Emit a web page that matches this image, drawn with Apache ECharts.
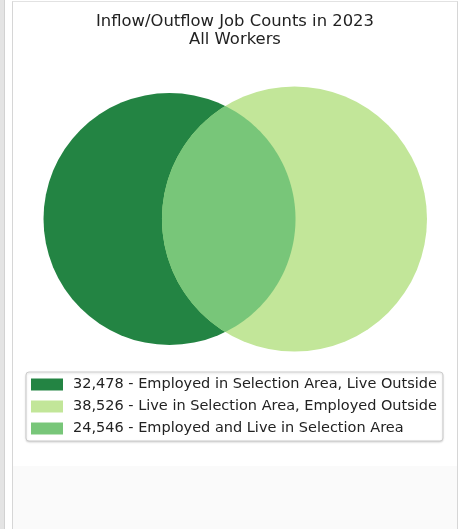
<!DOCTYPE html>
<html>
<head>
<meta charset="utf-8">
<script src="https://cdn.jsdelivr.net/npm/echarts@6/dist/echarts.min.js"></script>
<style>
html, body { margin: 0; padding: 0; background: #fff; }
#frame { position: relative; width: 462px; height: 529px; overflow: hidden; }
#side { position: absolute; left: 0; top: 0; width: 4px; height: 529px; background: #e4e4e4; border-right: 1px solid #d2d2d2; }
#panel { position: absolute; left: 12px; top: 1px; width: 444px; height: 528px; background: #fff;
	border-left: 1px solid #d6d6d6; border-right: 1px solid #d6d6d6; border-top: 1px solid #e2e2e2; }
#foot { position: absolute; left: 13px; top: 466px; width: 444px; height: 63px; background: #fafafa; }
#chart { position: absolute; left: 13px; top: 2px; width: 444px; height: 464px; }
</style>
</head>
<body>
<div id="frame">
	<div id="side"></div>
	<div id="panel"></div>
	<div id="foot"></div>
	<div id="chart"></div>
</div>
<script>
'use strict';
var titleLines = ['Inflow/Outflow Job Counts in 2023', 'All Workers'];
var categories = [
	'Employed in Selection Area, Live Outside',
	'Live in Selection Area, Employed Outside',
	'Employed and Live in Selection Area'
];
var jobCounts = [32478, 38526, 24546];
var colors = ['#238443', '#c2e699', '#78c679'];

// circle areas are proportional to the totals, overlap area to the shared count
var r1 = Math.sqrt((jobCounts[0] + jobCounts[2]) / Math.PI),
		r2 = Math.sqrt((jobCounts[1] + jobCounts[2]) / Math.PI);

function lensArea(d) {
	var c1 = (d * d + r1 * r1 - r2 * r2) / (2 * d * r1),
			c2 = (d * d + r2 * r2 - r1 * r1) / (2 * d * r2),
			k = (-d + r1 + r2) * (d + r1 - r2) * (d - r1 + r2) * (d + r1 + r2);
	return r1 * r1 * Math.acos(c1) + r2 * r2 * Math.acos(c2) - 0.5 * Math.sqrt(k);
}

function solveDistance(target) {
	var lo = Math.abs(r1 - r2) + 1e-6, hi = r1 + r2 - 1e-6;
	for (var i = 0; i < 80; i++) {
		var mid = (lo + hi) / 2;
		if (lensArea(mid) > target) lo = mid; else hi = mid;
	}
	return (lo + hi) / 2;
}

var dist = solveDistance(jobCounts[2]);
var chordX = (dist * dist + r1 * r1 - r2 * r2) / (2 * dist),
		chordH = Math.sqrt(r1 * r1 - chordX * chordX);

// equal scale on both axes
var gridLeft = 30.5, gridWidth = 383.5, centerY = 217;
var pxPerUnit = gridWidth / (r1 + dist + r2);
var gridHeight = 2 * r2 * pxPerUnit;

function lensPoints() {
	var pts = [], n = 90, i, t,
			t1 = Math.atan2(chordH, chordX),
			t2 = Math.atan2(chordH, chordX - dist);
	for (i = 0; i <= n; i++) {
		t = t1 - 2 * t1 * i / n;
		pts.push([r1 * Math.cos(t), r1 * Math.sin(t)]);
	}
	for (i = 0; i <= n; i++) {
		t = -t2 - (2 * Math.PI - 2 * t2) * i / n;
		pts.push([dist + r2 * Math.cos(t), r2 * Math.sin(t)]);
	}
	return pts;
}

function renderShape(kind) {
	return function (params, api) {
		var color = api.visual('color');
		if (kind === 2) {
			return {
				type: 'polygon',
				shape: { points: lensPoints().map(function (p) { return api.coord(p); }) },
				style: { fill: color }
			};
		}
		var cx = kind === 0 ? 0 : dist,
				r = kind === 0 ? r1 : r2,
				c = api.coord([cx, 0]);
		return {
			type: 'circle',
			shape: { cx: c[0], cy: c[1], r: api.size([r, r])[0] },
			style: { fill: color }
		};
	};
}

var legendNames = jobCounts.map(function (v, i) {
	return v.toLocaleString('en-US') + ' - ' + categories[i];
});

var chart = echarts.init(document.getElementById('chart'));

chart.setOption({
	animation: false,
	title: {
		text: titleLines.join('\n'),
		left: 'center',
		top: 11,
		padding: 0,
		textStyle: {
			fontFamily: 'DejaVu Sans',
			fontSize: 16.4,
			fontWeight: 'normal',
			color: '#222',
			lineHeight: 18
		}
	},
	legend: {
		orient: 'vertical',
		left: 13,
		top: 370,
		padding: [5, 6, 5, 5],
		itemWidth: 32,
		itemHeight: 12,
		itemGap: 7,
		icon: 'rect',
		borderColor: '#cccccc',
		borderWidth: 1,
		borderRadius: 3,
		shadowBlur: 2,
		shadowColor: 'rgba(0,0,0,0.15)',
		shadowOffsetY: 1,
		backgroundColor: '#fff',
		selectedMode: false,
		textStyle: {
			fontFamily: 'DejaVu Sans',
			fontSize: 14.5,
			color: '#222',
			padding: [0, 0, 0, 5]
		},
		data: legendNames
	},
	grid: {
		left: gridLeft,
		top: centerY - gridHeight / 2,
		width: gridWidth,
		height: gridHeight
	},
	xAxis: { type: 'value', min: -r1, max: dist + r2, show: false },
	yAxis: { type: 'value', min: -r2, max: r2, show: false },
	series: legendNames.map(function (name, i) {
		return {
			type: 'custom',
			name: name,
			itemStyle: { color: colors[i] },
			renderItem: renderShape(i),
			silent: true,
			data: [[i, jobCounts[i]]]
		};
	})
});
</script>
</body>
</html>
